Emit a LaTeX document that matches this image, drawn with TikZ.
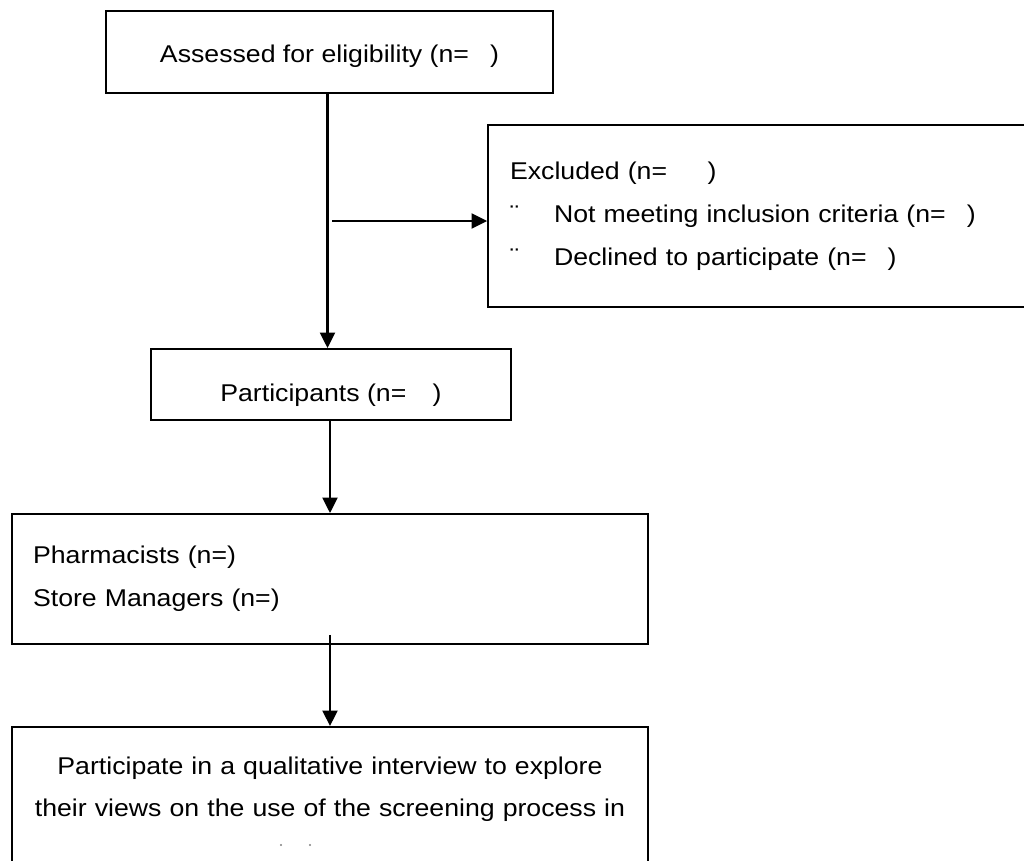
\documentclass[tikz,border=0pt]{standalone}
\usepackage{fontspec}
\setmainfont{Liberation Sans}[FakeStretch=1.1]
\usetikzlibrary{arrows.meta}

\begin{document}
\begin{tikzpicture}[x=0.02cm, y=-0.02cm,
    box/.style={draw, line width=1.1pt, rectangle, inner sep=0pt,
      font=\fontsize{13.8pt}{24.5pt}\selectfont},
    arr/.style={line width=1.2pt, -{Triangle[length=0.31cm, width=0.3cm]}}]
    \clip (0,0) rectangle (1024,860);

    % Define Nodes
    \node[box, minimum width=8.94cm, minimum height=1.65cm,
      text height=11.4pt, text depth=0pt] (assess) at (329.5,52)
      {Assessed for eligibility (n=\hspace{12pt})};
    \node[box, minimum width=11.04cm, minimum height=3.64cm,
      align=left, text width=10.16cm, inner xsep=0.44cm] (excl) at (764,216)
      {Excluded (n=\hspace{23pt})\\
       \makebox[0.88cm][l]{¨}Not meeting inclusion criteria (n=\hspace{12pt})\\
       \makebox[0.88cm][l]{¨}Declined to participate (n=\hspace{12pt})};
    \node[box, minimum width=7.2cm, minimum height=1.42cm,
      text height=18.8pt, text depth=0pt] (part) at (331,384.5)
      {Participants (n=\hspace{15pt})};
    \node[box, minimum width=12.72cm, minimum height=2.6cm,
      align=left, text width=11.88cm, inner xsep=0.42cm] (staff) at (330,579)
      {Pharmacists (n=)\\Store Managers (n=)};
    \node[box, anchor=north, minimum width=12.72cm, minimum height=3.5cm,
      align=center, text width=12cm,
      font=\fontsize{13.8pt}{23.9pt}\selectfont] (interview) at (330,726)
      {Participate in a qualitative interview to explore\\
       their views on the use of the screening process in\\ \strut};
    \coordinate (branch) at (332,221);

    % Draw Edges
    \draw[arr] ([xshift=-0.04cm]assess.south) -- ([xshift=-0.04cm]assess.south |- part.north);
    \draw[arr] (branch) -- (branch -| excl.west);
    \draw[arr] (part.south -| staff.north) -- (staff.north);
    \draw[arr] ([yshift=0.2cm]staff.south) -- (interview.north);

    % cut-off line
    \fill[gray] (281,845) circle[radius=1.2];
    \fill[gray] (310,845) circle[radius=1.2];
\end{tikzpicture}
\end{document}
